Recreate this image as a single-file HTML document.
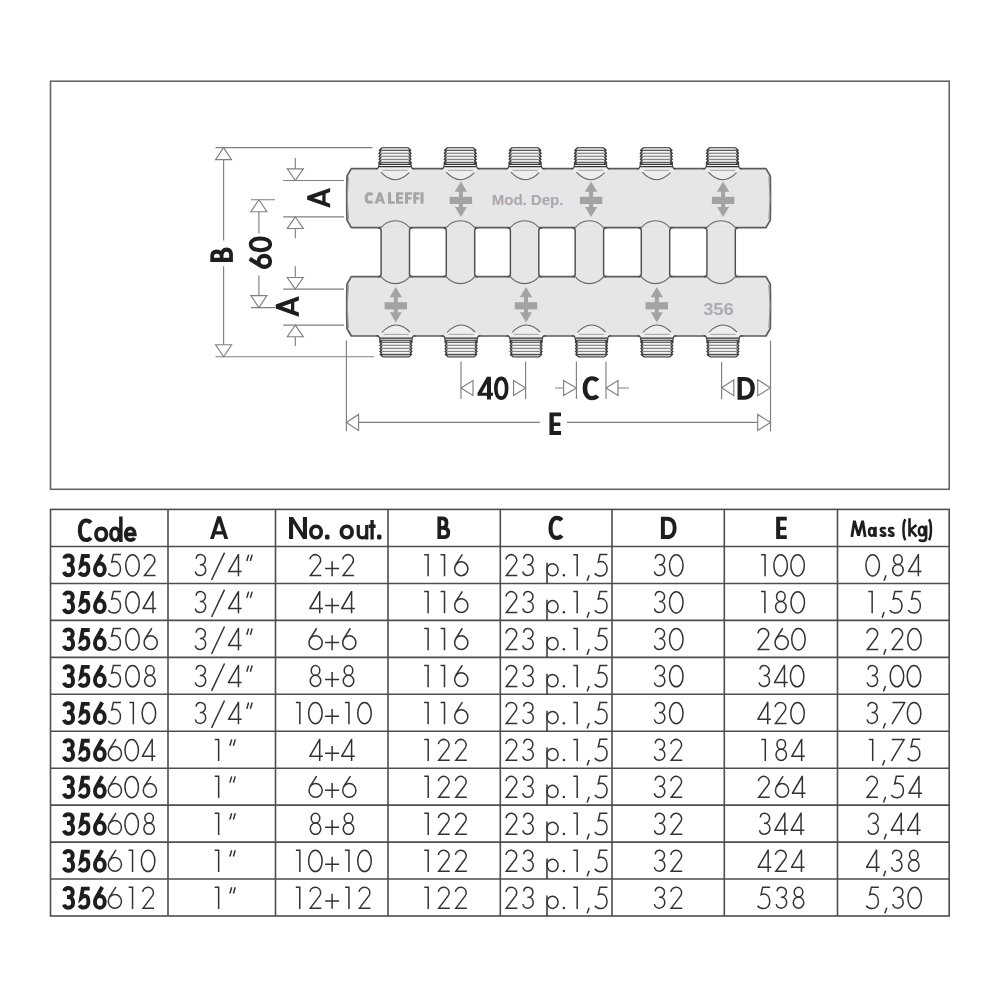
<!DOCTYPE html>
<html><head><meta charset="utf-8"><style>
html,body{margin:0;padding:0;background:#fff;}
svg{display:block;font-family:"Liberation Sans",sans-serif;}
</style></head><body>
<svg width="1000" height="1000" viewBox="0 0 1000 1000">
<defs><g id="L0"><ellipse cx="7.5" cy="11.4" rx="6.75" ry="10.65"/></g><g id="L1"><path d="M0,0.7H3.95V22.4"/></g><g id="L2"><path d="M0.75,5.45A5.44,5.44 0 1 1 10.29,9.67L1.2,21.65H12.2"/></g><g id="L3"><path d="M1.35,4.85C1.6,2.3 3.3,0.65 5.6,0.65C8.37,0.65 10.65,2.88 10.65,5.65C10.65,8.42 8.6,10.7 6.2,10.7H5.1M6.2,10.7C8.9,10.7 10.95,13.15 10.95,16.175C10.95,19.2 8.5,21.65 5.475,21.65C3.1,21.65 1.1,19.9 0.45,17.6"/></g><g id="L4"><path d="M14,17.6H0.9L10.8,0.6M10.8,0V22.4" stroke-linejoin="round"/></g><g id="L5"><path d="M13.3,0.65H5.8L4.15,8.15C5.4,7.6 6.2,7.6 6.9,7.6C10.5,7.6 12.85,10.8 12.85,15C12.85,19.2 10.2,22.1 6.7,22.1C4.2,22.1 1.8,20.8 0.7,19.25"/></g><g id="L6"><path d="M8.4,0.4L1.5,11.2"/><ellipse cx="7.3" cy="14.8" rx="6.6" ry="6.9"/></g><g id="L7"><path d="M1.2,0.7H13.65L0.8,22.4" stroke-linejoin="round"/></g><g id="L8"><ellipse cx="6" cy="5.6" rx="4.3" ry="4.9"/><ellipse cx="6" cy="16.1" rx="5.25" ry="5.6"/></g><g id="Lsl"><path d="M0.7,26.1L13.7,-1.3"/></g><g id="Ldq"><path d="M0.75,7.0L2.6,0.7M4.3,7.0L6.15,0.7"/></g><g id="Lpl"><path d="M0,14.6H14M7,7.3V22.3"/></g><g id="Lp"><path d="M0.75,8.9V29.5"/><ellipse cx="6.3" cy="15.8" rx="5.55" ry="6.1"/></g><g id="Ldt"><circle cx="1.25" cy="21.4" r="1.25" stroke="none" fill="#333"/></g><g id="Lcm"><path d="M0.7,26.8L2.7,21.2"/></g><g id="BA"><path d="M7.3,0H10.9L18.2,22.7H14.4L12.97,18.2H5.25L3.8,22.7H0ZM9.1,6.3L11.85,15H6.3Z" fill-rule="evenodd" stroke="none"/></g><g id="BB"><path d="M1.85,11.2H5.2C7.6,11.2 9.15,9.3 9.15,6.3C9.15,3.4 7.6,1.85 5.2,1.85H1.85V20.55H6.2C9.3,20.55 10.95,19 10.95,16.1C10.95,13.1 8.9,11.2 5.2,11.2" fill="none" stroke-width="3.7"/></g><g id="BC"><path d="M13.55,4.3C12.3,2.7 10.6,1.9 8.6,1.9C4.6,1.9 2.3,6.3 2.3,11.9C2.3,17.5 4.6,21.9 8.6,21.9C10.6,21.9 12.3,21.1 13.55,19.5" fill="none" stroke-width="4.2"/></g><g id="BD"><path d="M2,1.9H6.2C11.3,1.9 13.8,5.8 13.8,11.1C13.8,16.4 11.3,20.3 6.2,20.3H2Z" fill="none" stroke-width="3.95"/></g><g id="BL"><path d="M0,0H4V18.4H10.6V22.2H0Z" fill-rule="evenodd" stroke="none"/></g><g id="BF"><path d="M0,0H10.6V3.8H4V9.9H10V13.3H4V22.2H0Z" fill-rule="evenodd" stroke="none"/></g><g id="BI"><path d="M0,0H4V22.2H0Z" fill-rule="evenodd" stroke="none"/></g><g id="BE"><path d="M0,0H10.6V3.8H4V9.9H10V13.3H4V18.4H10.6V22.2H0Z" fill-rule="evenodd" stroke="none"/></g><g id="B0"><path d="M7.25,1.85C3.9,1.85 1.85,6 1.85,11.75C1.85,17.5 3.9,21.65 7.25,21.65C10.6,21.65 12.65,17.5 12.65,11.75C12.65,6 10.6,1.85 7.25,1.85Z" fill="none" stroke-width="3.7"/></g><g id="B4"><path d="M9.5,0H13.5V15.9H15.5V19H13.5V22.75H9.5V19H0V16.2ZM9.5,7.1V15.9H4.35Z" fill-rule="evenodd" stroke="none"/></g><g id="B6"><path d="M9.2,0.9L2.8,12.3M6.85,9.9C3.9,9.9 1.95,12.4 1.95,15.75C1.95,19.1 3.9,21.6 6.85,21.6C9.8,21.6 11.75,19.1 11.75,15.75C11.75,12.4 9.8,9.9 6.85,9.9Z" fill="none" stroke-width="3.9"/></g><g id="B3"><path d="M2.3,5.0C2.7,2.7 4.3,2.0 6.5,2.0C9.0,2.0 10.6,3.8 10.6,6.2C10.6,8.9 8.9,10.9 6.3,10.9H4.9M6.3,10.9C9.3,10.9 11.0,13.5 11.0,16.8C11.0,19.9 9.1,21.7 6.4,21.7C4.1,21.7 2.5,20.5 1.9,18.4" fill="none" stroke-width="4.0"/></g><g id="B5"><path d="M12.4,2.55H5.5L3.9,11.7C5,10.6 6.3,10 7.6,10C10,10 11.1,12.5 11.1,15.7C11.1,19.2 9.2,21.5 6.4,21.5C4.4,21.5 2.9,20.6 2.0,19.1" fill="none" stroke-width="3.9"/></g><g id="Bo"><path d="M7.1,1.85C3.9,1.85 1.85,4.3 1.85,7.75C1.85,11.2 3.9,13.65 7.1,13.65C10.3,13.65 12.35,11.2 12.35,7.75C12.35,4.3 10.3,1.85 7.1,1.85Z" fill="none" stroke-width="3.7"/></g><g id="Bd"><path d="M11.85,0V25.4M6.1,11.75C3.5,11.75 1.85,14.2 1.85,17.65C1.85,21.1 3.5,23.55 6.1,23.55C8.7,23.55 10.3,21.1 10.3,17.65C10.3,14.2 8.7,11.75 6.1,11.75Z" fill="none" stroke-width="3.5"/></g><g id="Be"><path d="M1.85,7.9H11.05C11.05,4.3 9.1,1.85 6.45,1.85C3.6,1.85 1.85,4.4 1.85,7.75C1.85,11.2 3.6,13.65 6.45,13.65C8.3,13.65 9.8,12.9 10.7,11.3" fill="none" stroke-width="3.7"/></g><g id="BN"><path d="M0,22H0V0H4.1L13.9,15.4V0H18V22H13.9L4.1,6.6V22Z" fill-rule="evenodd" stroke="none"/></g><g id="Bu"><path d="M1.75,0V8.6C1.75,11.4 3.3,12.8 6,12.8C8.7,12.8 10.25,11.4 10.25,8.6M10.25,0V14.5" fill="none" stroke-width="3.2"/></g><g id="Bt"><path d="M3.5,0V19.5M0,6.25H7" fill="none" stroke-width="3.3"/></g><g id="Bdot"><rect x="0" y="0" width="4.5" height="5" rx="1.6" stroke="none"/></g><g id="BM"><path d="M1.3,17.5L3.9,1.3L8,16.2L12.1,1.3L14.7,17.5" fill="none" stroke-width="2.8" stroke-linejoin="bevel"/></g><g id="Ba"><path d="M4.1,1.3C2.4,1.3 1.3,3 1.3,5.1C1.3,7.2 2.4,8.95 4.1,8.95C5.8,8.95 6.9,7.2 6.9,5.1C6.9,3 5.8,1.3 4.1,1.3ZM7.7,0V10.25" fill="none" stroke-width="2.6"/></g><g id="Bs"><path d="M6.1,2.2C5.5,1.5 4.6,1.25 3.6,1.25C2.2,1.25 1.3,2.1 1.3,3.2C1.3,6 5.8,5 5.8,7.7C5.8,9.2 4.7,9 3.4,9C2.2,9 1.2,8.5 0.7,7.6" fill="none" stroke-width="2.5"/></g><g id="Blp"><path d="M3,0.5C0.4,4.5 0.4,17.3 3,21.3" fill="none" stroke-width="2.5"/></g><g id="Brp"><path d="M0.4,0.5C3,4.5 3,17.3 0.4,21.3" fill="none" stroke-width="2.5"/></g><g id="Bk"><path d="M1.3,0V18.4M8.2,6.8L2.4,11.6L8.4,18.4" fill="none" stroke-width="2.6"/></g><g id="Bg"><path d="M4.3,1.3C2.5,1.3 1.3,3.2 1.3,5.6C1.3,8 2.5,9.9 4.3,9.9C6.1,9.9 7.2,8 7.2,5.6C7.2,3.2 6.1,1.3 4.3,1.3ZM8.5,0V12.6C8.5,15.2 7,15.5 4.8,15.5C3.3,15.5 2.1,15 1.4,14" fill="none" stroke-width="2.6"/></g></defs>
<rect x="50.5" y="81.2" width="898.7" height="408.1" fill="none" stroke="#626262" stroke-width="1.55"/><g fill="#e6e6e8" stroke="#5c5c5c" stroke-width="1.7" stroke-linejoin="round"><path d="M351.3,168.7H766L770.3,176.2Q770.7,198.2 770.3,220.2L766,227.7H351.3L347,220.2Q346.4,198.2 347,176.2Z"/><path d="M351.3,276.7H766L770.3,284.2Q770.7,306.35 770.3,328.5L766,336H351.3L347,328.5Q346.4,306.35 347,284.2Z"/></g><g fill="#e6e6e8" stroke="none"><rect x="381.1" y="226.2" width="28.4" height="52"/><rect x="446.3" y="226.2" width="28.4" height="52"/><rect x="510.4" y="226.2" width="28.4" height="52"/><rect x="575.2" y="226.2" width="28.4" height="52"/><rect x="641.3" y="226.2" width="28.4" height="52"/><rect x="706.9" y="226.2" width="28.4" height="52"/></g><path d="M378.1,227.7Q381.1,227.7 381.1,230.7V273.7Q381.1,276.7 378.1,276.7M412.5,227.7Q409.5,227.7 409.5,230.7V273.7Q409.5,276.7 412.5,276.7M443.3,227.7Q446.3,227.7 446.3,230.7V273.7Q446.3,276.7 443.3,276.7M477.7,227.7Q474.7,227.7 474.7,230.7V273.7Q474.7,276.7 477.7,276.7M507.4,227.7Q510.4,227.7 510.4,230.7V273.7Q510.4,276.7 507.4,276.7M541.8,227.7Q538.8,227.7 538.8,230.7V273.7Q538.8,276.7 541.8,276.7M572.2,227.7Q575.2,227.7 575.2,230.7V273.7Q575.2,276.7 572.2,276.7M606.6,227.7Q603.6,227.7 603.6,230.7V273.7Q603.6,276.7 606.6,276.7M638.3,227.7Q641.3,227.7 641.3,230.7V273.7Q641.3,276.7 638.3,276.7M672.7,227.7Q669.7,227.7 669.7,230.7V273.7Q669.7,276.7 672.7,276.7M703.9,227.7Q706.9,227.7 706.9,230.7V273.7Q706.9,276.7 703.9,276.7M738.3,227.7Q735.3,227.7 735.3,230.7V273.7Q735.3,276.7 738.3,276.7" fill="none" stroke="#4f4f4f" stroke-width="1.45"/><g fill="none" stroke="#9a9a9c" stroke-width="0.9"><path d="M768.7,176.7Q771.5,198.2 768.7,219.7"/><path d="M348.6,176.7Q345.8,198.2 348.6,219.7"/><path d="M768.7,284.7Q771.5,306.35 768.7,328"/><path d="M348.6,284.7Q345.8,306.35 348.6,328"/></g><g fill="none" stroke="#6a6a6a" stroke-width="1.1"><path d="M381.1,227.7A18,18 0 0 1 409.5,227.7"/><path d="M381.1,276.7A18,18 0 0 0 409.5,276.7"/><path d="M446.3,227.7A18,18 0 0 1 474.7,227.7"/><path d="M446.3,276.7A18,18 0 0 0 474.7,276.7"/><path d="M510.4,227.7A18,18 0 0 1 538.8,227.7"/><path d="M510.4,276.7A18,18 0 0 0 538.8,276.7"/><path d="M575.2,227.7A18,18 0 0 1 603.6,227.7"/><path d="M575.2,276.7A18,18 0 0 0 603.6,276.7"/><path d="M641.3,227.7A18,18 0 0 1 669.7,227.7"/><path d="M641.3,276.7A18,18 0 0 0 669.7,276.7"/><path d="M706.9,227.7A18,18 0 0 1 735.3,227.7"/><path d="M706.9,276.7A18,18 0 0 0 735.3,276.7"/></g><g transform="translate(394.9,0)"><path d="M-17.6,166.8H17.8V169.5L14.2,172.6Q0,186 -14,172.2L-17.6,169.5Z" fill="#eeeeef" stroke="none"/><path d="M-14,172.2Q0,187 14.2,172.6" fill="none" stroke="#626262" stroke-width="1.05"/><path d="M-12.3,170.35H12.8" fill="none" stroke="#9c9c9c" stroke-width="0.9"/><path d="M-12.6,147.6H13L15.8,150.3V166.6H-15.6V150.3Z" fill="#dddddd" stroke="none"/><rect x="-14.4" y="162.4" width="28.9" height="2.3" fill="#c4c4c4"/><rect x="-14.4" y="159.6" width="28.9" height="2.6" fill="#dedede"/><path d="M-13.6,151.8H13.8M-13.6,154.8H13.8M-13.6,157.85H13.8" fill="none" stroke="#f7f7f7" stroke-width="1.5"/><path d="M-15,165.6H15.2" stroke="#f4f4f4" stroke-width="1.1"/><path d="M-13.6,160.9H13.8" stroke="#ececec" stroke-width="1.2"/><path d="M-13.2,149H13.5" stroke="#f2f2f2" stroke-width="1.3"/><path d="M-19.5,168.75H-17.8C-16.6,168.4 -16.1,167.2 -15.9,164.55M19.7,168.75H18C16.8,168.4 16.3,167.2 16.1,164.55" fill="none" stroke="#444" stroke-width="1.2"/><path d="M-15.9,164.55H16.1M-16,166.6H16.2" fill="none" stroke="#343434" stroke-width="1.05"/><path d="M-12.6,147.6L-15.6,150.3L-14.1,151.8L-15.9,153.3L-14.1,154.8L-15.9,156.3L-14.1,157.8L-15.9,159.3L-14.1,160.8L-15.9,162.3L-14.1,163.8L-15.9,162.4L-15.9,164.55M13,147.6L15.8,150.3L14.3,151.8L16.1,153.3L14.3,154.8L16.1,156.3L14.3,157.8L16.1,159.3L14.3,160.8L16.1,162.3L14.3,163.8L16.1,162.4L16.1,164.55" fill="none" stroke="#383838" stroke-width="1.3" stroke-linejoin="round"/><path d="M-12.6,147.7H13M-15.3,150.3H15.5" fill="none" stroke="#3a3a3a" stroke-width="1.0"/><path d="M-14.4,153.3H14.6M-14.4,156.3H14.6M-14.4,159.4H14.6" fill="none" stroke="#707070" stroke-width="0.9"/><path d="M-14.6,162.4H14.8" fill="none" stroke="#505050" stroke-width="1.0"/></g><g transform="translate(460.2,0)"><path d="M-17.6,166.8H17.8V169.5L14.2,172.6Q0,186 -14,172.2L-17.6,169.5Z" fill="#eeeeef" stroke="none"/><path d="M-14,172.2Q0,187 14.2,172.6" fill="none" stroke="#626262" stroke-width="1.05"/><path d="M-12.3,170.35H12.8" fill="none" stroke="#9c9c9c" stroke-width="0.9"/><path d="M-12.6,147.6H13L15.8,150.3V166.6H-15.6V150.3Z" fill="#dddddd" stroke="none"/><rect x="-14.4" y="162.4" width="28.9" height="2.3" fill="#c4c4c4"/><rect x="-14.4" y="159.6" width="28.9" height="2.6" fill="#dedede"/><path d="M-13.6,151.8H13.8M-13.6,154.8H13.8M-13.6,157.85H13.8" fill="none" stroke="#f7f7f7" stroke-width="1.5"/><path d="M-15,165.6H15.2" stroke="#f4f4f4" stroke-width="1.1"/><path d="M-13.6,160.9H13.8" stroke="#ececec" stroke-width="1.2"/><path d="M-13.2,149H13.5" stroke="#f2f2f2" stroke-width="1.3"/><path d="M-19.5,168.75H-17.8C-16.6,168.4 -16.1,167.2 -15.9,164.55M19.7,168.75H18C16.8,168.4 16.3,167.2 16.1,164.55" fill="none" stroke="#444" stroke-width="1.2"/><path d="M-15.9,164.55H16.1M-16,166.6H16.2" fill="none" stroke="#343434" stroke-width="1.05"/><path d="M-12.6,147.6L-15.6,150.3L-14.1,151.8L-15.9,153.3L-14.1,154.8L-15.9,156.3L-14.1,157.8L-15.9,159.3L-14.1,160.8L-15.9,162.3L-14.1,163.8L-15.9,162.4L-15.9,164.55M13,147.6L15.8,150.3L14.3,151.8L16.1,153.3L14.3,154.8L16.1,156.3L14.3,157.8L16.1,159.3L14.3,160.8L16.1,162.3L14.3,163.8L16.1,162.4L16.1,164.55" fill="none" stroke="#383838" stroke-width="1.3" stroke-linejoin="round"/><path d="M-12.6,147.7H13M-15.3,150.3H15.5" fill="none" stroke="#3a3a3a" stroke-width="1.0"/><path d="M-14.4,153.3H14.6M-14.4,156.3H14.6M-14.4,159.4H14.6" fill="none" stroke="#707070" stroke-width="0.9"/><path d="M-14.6,162.4H14.8" fill="none" stroke="#505050" stroke-width="1.0"/></g><g transform="translate(525,0)"><path d="M-17.6,166.8H17.8V169.5L14.2,172.6Q0,186 -14,172.2L-17.6,169.5Z" fill="#eeeeef" stroke="none"/><path d="M-14,172.2Q0,187 14.2,172.6" fill="none" stroke="#626262" stroke-width="1.05"/><path d="M-12.3,170.35H12.8" fill="none" stroke="#9c9c9c" stroke-width="0.9"/><path d="M-12.6,147.6H13L15.8,150.3V166.6H-15.6V150.3Z" fill="#dddddd" stroke="none"/><rect x="-14.4" y="162.4" width="28.9" height="2.3" fill="#c4c4c4"/><rect x="-14.4" y="159.6" width="28.9" height="2.6" fill="#dedede"/><path d="M-13.6,151.8H13.8M-13.6,154.8H13.8M-13.6,157.85H13.8" fill="none" stroke="#f7f7f7" stroke-width="1.5"/><path d="M-15,165.6H15.2" stroke="#f4f4f4" stroke-width="1.1"/><path d="M-13.6,160.9H13.8" stroke="#ececec" stroke-width="1.2"/><path d="M-13.2,149H13.5" stroke="#f2f2f2" stroke-width="1.3"/><path d="M-19.5,168.75H-17.8C-16.6,168.4 -16.1,167.2 -15.9,164.55M19.7,168.75H18C16.8,168.4 16.3,167.2 16.1,164.55" fill="none" stroke="#444" stroke-width="1.2"/><path d="M-15.9,164.55H16.1M-16,166.6H16.2" fill="none" stroke="#343434" stroke-width="1.05"/><path d="M-12.6,147.6L-15.6,150.3L-14.1,151.8L-15.9,153.3L-14.1,154.8L-15.9,156.3L-14.1,157.8L-15.9,159.3L-14.1,160.8L-15.9,162.3L-14.1,163.8L-15.9,162.4L-15.9,164.55M13,147.6L15.8,150.3L14.3,151.8L16.1,153.3L14.3,154.8L16.1,156.3L14.3,157.8L16.1,159.3L14.3,160.8L16.1,162.3L14.3,163.8L16.1,162.4L16.1,164.55" fill="none" stroke="#383838" stroke-width="1.3" stroke-linejoin="round"/><path d="M-12.6,147.7H13M-15.3,150.3H15.5" fill="none" stroke="#3a3a3a" stroke-width="1.0"/><path d="M-14.4,153.3H14.6M-14.4,156.3H14.6M-14.4,159.4H14.6" fill="none" stroke="#707070" stroke-width="0.9"/><path d="M-14.6,162.4H14.8" fill="none" stroke="#505050" stroke-width="1.0"/></g><g transform="translate(590.4,0)"><path d="M-17.6,166.8H17.8V169.5L14.2,172.6Q0,186 -14,172.2L-17.6,169.5Z" fill="#eeeeef" stroke="none"/><path d="M-14,172.2Q0,187 14.2,172.6" fill="none" stroke="#626262" stroke-width="1.05"/><path d="M-12.3,170.35H12.8" fill="none" stroke="#9c9c9c" stroke-width="0.9"/><path d="M-12.6,147.6H13L15.8,150.3V166.6H-15.6V150.3Z" fill="#dddddd" stroke="none"/><rect x="-14.4" y="162.4" width="28.9" height="2.3" fill="#c4c4c4"/><rect x="-14.4" y="159.6" width="28.9" height="2.6" fill="#dedede"/><path d="M-13.6,151.8H13.8M-13.6,154.8H13.8M-13.6,157.85H13.8" fill="none" stroke="#f7f7f7" stroke-width="1.5"/><path d="M-15,165.6H15.2" stroke="#f4f4f4" stroke-width="1.1"/><path d="M-13.6,160.9H13.8" stroke="#ececec" stroke-width="1.2"/><path d="M-13.2,149H13.5" stroke="#f2f2f2" stroke-width="1.3"/><path d="M-19.5,168.75H-17.8C-16.6,168.4 -16.1,167.2 -15.9,164.55M19.7,168.75H18C16.8,168.4 16.3,167.2 16.1,164.55" fill="none" stroke="#444" stroke-width="1.2"/><path d="M-15.9,164.55H16.1M-16,166.6H16.2" fill="none" stroke="#343434" stroke-width="1.05"/><path d="M-12.6,147.6L-15.6,150.3L-14.1,151.8L-15.9,153.3L-14.1,154.8L-15.9,156.3L-14.1,157.8L-15.9,159.3L-14.1,160.8L-15.9,162.3L-14.1,163.8L-15.9,162.4L-15.9,164.55M13,147.6L15.8,150.3L14.3,151.8L16.1,153.3L14.3,154.8L16.1,156.3L14.3,157.8L16.1,159.3L14.3,160.8L16.1,162.3L14.3,163.8L16.1,162.4L16.1,164.55" fill="none" stroke="#383838" stroke-width="1.3" stroke-linejoin="round"/><path d="M-12.6,147.7H13M-15.3,150.3H15.5" fill="none" stroke="#3a3a3a" stroke-width="1.0"/><path d="M-14.4,153.3H14.6M-14.4,156.3H14.6M-14.4,159.4H14.6" fill="none" stroke="#707070" stroke-width="0.9"/><path d="M-14.6,162.4H14.8" fill="none" stroke="#505050" stroke-width="1.0"/></g><g transform="translate(656.2,0)"><path d="M-17.6,166.8H17.8V169.5L14.2,172.6Q0,186 -14,172.2L-17.6,169.5Z" fill="#eeeeef" stroke="none"/><path d="M-14,172.2Q0,187 14.2,172.6" fill="none" stroke="#626262" stroke-width="1.05"/><path d="M-12.3,170.35H12.8" fill="none" stroke="#9c9c9c" stroke-width="0.9"/><path d="M-12.6,147.6H13L15.8,150.3V166.6H-15.6V150.3Z" fill="#dddddd" stroke="none"/><rect x="-14.4" y="162.4" width="28.9" height="2.3" fill="#c4c4c4"/><rect x="-14.4" y="159.6" width="28.9" height="2.6" fill="#dedede"/><path d="M-13.6,151.8H13.8M-13.6,154.8H13.8M-13.6,157.85H13.8" fill="none" stroke="#f7f7f7" stroke-width="1.5"/><path d="M-15,165.6H15.2" stroke="#f4f4f4" stroke-width="1.1"/><path d="M-13.6,160.9H13.8" stroke="#ececec" stroke-width="1.2"/><path d="M-13.2,149H13.5" stroke="#f2f2f2" stroke-width="1.3"/><path d="M-19.5,168.75H-17.8C-16.6,168.4 -16.1,167.2 -15.9,164.55M19.7,168.75H18C16.8,168.4 16.3,167.2 16.1,164.55" fill="none" stroke="#444" stroke-width="1.2"/><path d="M-15.9,164.55H16.1M-16,166.6H16.2" fill="none" stroke="#343434" stroke-width="1.05"/><path d="M-12.6,147.6L-15.6,150.3L-14.1,151.8L-15.9,153.3L-14.1,154.8L-15.9,156.3L-14.1,157.8L-15.9,159.3L-14.1,160.8L-15.9,162.3L-14.1,163.8L-15.9,162.4L-15.9,164.55M13,147.6L15.8,150.3L14.3,151.8L16.1,153.3L14.3,154.8L16.1,156.3L14.3,157.8L16.1,159.3L14.3,160.8L16.1,162.3L14.3,163.8L16.1,162.4L16.1,164.55" fill="none" stroke="#383838" stroke-width="1.3" stroke-linejoin="round"/><path d="M-12.6,147.7H13M-15.3,150.3H15.5" fill="none" stroke="#3a3a3a" stroke-width="1.0"/><path d="M-14.4,153.3H14.6M-14.4,156.3H14.6M-14.4,159.4H14.6" fill="none" stroke="#707070" stroke-width="0.9"/><path d="M-14.6,162.4H14.8" fill="none" stroke="#505050" stroke-width="1.0"/></g><g transform="translate(722.4,0)"><path d="M-17.6,166.8H17.8V169.5L14.2,172.6Q0,186 -14,172.2L-17.6,169.5Z" fill="#eeeeef" stroke="none"/><path d="M-14,172.2Q0,187 14.2,172.6" fill="none" stroke="#626262" stroke-width="1.05"/><path d="M-12.3,170.35H12.8" fill="none" stroke="#9c9c9c" stroke-width="0.9"/><path d="M-12.6,147.6H13L15.8,150.3V166.6H-15.6V150.3Z" fill="#dddddd" stroke="none"/><rect x="-14.4" y="162.4" width="28.9" height="2.3" fill="#c4c4c4"/><rect x="-14.4" y="159.6" width="28.9" height="2.6" fill="#dedede"/><path d="M-13.6,151.8H13.8M-13.6,154.8H13.8M-13.6,157.85H13.8" fill="none" stroke="#f7f7f7" stroke-width="1.5"/><path d="M-15,165.6H15.2" stroke="#f4f4f4" stroke-width="1.1"/><path d="M-13.6,160.9H13.8" stroke="#ececec" stroke-width="1.2"/><path d="M-13.2,149H13.5" stroke="#f2f2f2" stroke-width="1.3"/><path d="M-19.5,168.75H-17.8C-16.6,168.4 -16.1,167.2 -15.9,164.55M19.7,168.75H18C16.8,168.4 16.3,167.2 16.1,164.55" fill="none" stroke="#444" stroke-width="1.2"/><path d="M-15.9,164.55H16.1M-16,166.6H16.2" fill="none" stroke="#343434" stroke-width="1.05"/><path d="M-12.6,147.6L-15.6,150.3L-14.1,151.8L-15.9,153.3L-14.1,154.8L-15.9,156.3L-14.1,157.8L-15.9,159.3L-14.1,160.8L-15.9,162.3L-14.1,163.8L-15.9,162.4L-15.9,164.55M13,147.6L15.8,150.3L14.3,151.8L16.1,153.3L14.3,154.8L16.1,156.3L14.3,157.8L16.1,159.3L14.3,160.8L16.1,162.3L14.3,163.8L16.1,162.4L16.1,164.55" fill="none" stroke="#383838" stroke-width="1.3" stroke-linejoin="round"/><path d="M-12.6,147.7H13M-15.3,150.3H15.5" fill="none" stroke="#3a3a3a" stroke-width="1.0"/><path d="M-14.4,153.3H14.6M-14.4,156.3H14.6M-14.4,159.4H14.6" fill="none" stroke="#707070" stroke-width="0.9"/><path d="M-14.6,162.4H14.8" fill="none" stroke="#505050" stroke-width="1.0"/></g><g transform="translate(395.8,504.7) scale(1,-1)"><path d="M-17.6,166.8H17.8V169.5L14.2,172.6Q0,186 -14,172.2L-17.6,169.5Z" fill="#eeeeef" stroke="none"/><path d="M-14,172.2Q0,187 14.2,172.6" fill="none" stroke="#626262" stroke-width="1.05"/><path d="M-12.3,170.35H12.8" fill="none" stroke="#9c9c9c" stroke-width="0.9"/><path d="M-12.6,147.6H13L15.8,150.3V166.6H-15.6V150.3Z" fill="#dddddd" stroke="none"/><rect x="-12.8" y="147.8" width="25.7" height="2.5" fill="#bdbdbd"/><path d="M-13.6,151.8H13.8M-13.6,154.8H13.8M-13.6,157.85H13.8" fill="none" stroke="#f7f7f7" stroke-width="1.5"/><path d="M-15,165.6H15.2" stroke="#f4f4f4" stroke-width="1.1"/><path d="M-13.6,160.9H13.8" stroke="#f7f7f7" stroke-width="1.5"/><path d="M-19.5,168.75H-17.8C-16.6,168.4 -16.1,167.2 -15.9,164.55M19.7,168.75H18C16.8,168.4 16.3,167.2 16.1,164.55" fill="none" stroke="#444" stroke-width="1.2"/><path d="M-15.9,164.55H16.1M-16,166.6H16.2" fill="none" stroke="#343434" stroke-width="1.05"/><path d="M-12.6,147.6L-15.6,150.3L-14.1,151.8L-15.9,153.3L-14.1,154.8L-15.9,156.3L-14.1,157.8L-15.9,159.3L-14.1,160.8L-15.9,162.3L-14.1,163.8L-15.9,162.4L-15.9,164.55M13,147.6L15.8,150.3L14.3,151.8L16.1,153.3L14.3,154.8L16.1,156.3L14.3,157.8L16.1,159.3L14.3,160.8L16.1,162.3L14.3,163.8L16.1,162.4L16.1,164.55" fill="none" stroke="#383838" stroke-width="1.3" stroke-linejoin="round"/><path d="M-12.6,147.7H13M-15.3,150.3H15.5" fill="none" stroke="#3a3a3a" stroke-width="1.0"/><path d="M-14.4,153.3H14.6M-14.4,156.3H14.6M-14.4,159.4H14.6" fill="none" stroke="#707070" stroke-width="0.9"/><path d="M-14.6,162.4H14.8" fill="none" stroke="#505050" stroke-width="1.0"/></g><g transform="translate(461,504.7) scale(1,-1)"><path d="M-17.6,166.8H17.8V169.5L14.2,172.6Q0,186 -14,172.2L-17.6,169.5Z" fill="#eeeeef" stroke="none"/><path d="M-14,172.2Q0,187 14.2,172.6" fill="none" stroke="#626262" stroke-width="1.05"/><path d="M-12.3,170.35H12.8" fill="none" stroke="#9c9c9c" stroke-width="0.9"/><path d="M-12.6,147.6H13L15.8,150.3V166.6H-15.6V150.3Z" fill="#dddddd" stroke="none"/><rect x="-12.8" y="147.8" width="25.7" height="2.5" fill="#bdbdbd"/><path d="M-13.6,151.8H13.8M-13.6,154.8H13.8M-13.6,157.85H13.8" fill="none" stroke="#f7f7f7" stroke-width="1.5"/><path d="M-15,165.6H15.2" stroke="#f4f4f4" stroke-width="1.1"/><path d="M-13.6,160.9H13.8" stroke="#f7f7f7" stroke-width="1.5"/><path d="M-19.5,168.75H-17.8C-16.6,168.4 -16.1,167.2 -15.9,164.55M19.7,168.75H18C16.8,168.4 16.3,167.2 16.1,164.55" fill="none" stroke="#444" stroke-width="1.2"/><path d="M-15.9,164.55H16.1M-16,166.6H16.2" fill="none" stroke="#343434" stroke-width="1.05"/><path d="M-12.6,147.6L-15.6,150.3L-14.1,151.8L-15.9,153.3L-14.1,154.8L-15.9,156.3L-14.1,157.8L-15.9,159.3L-14.1,160.8L-15.9,162.3L-14.1,163.8L-15.9,162.4L-15.9,164.55M13,147.6L15.8,150.3L14.3,151.8L16.1,153.3L14.3,154.8L16.1,156.3L14.3,157.8L16.1,159.3L14.3,160.8L16.1,162.3L14.3,163.8L16.1,162.4L16.1,164.55" fill="none" stroke="#383838" stroke-width="1.3" stroke-linejoin="round"/><path d="M-12.6,147.7H13M-15.3,150.3H15.5" fill="none" stroke="#3a3a3a" stroke-width="1.0"/><path d="M-14.4,153.3H14.6M-14.4,156.3H14.6M-14.4,159.4H14.6" fill="none" stroke="#707070" stroke-width="0.9"/><path d="M-14.6,162.4H14.8" fill="none" stroke="#505050" stroke-width="1.0"/></g><g transform="translate(526,504.7) scale(1,-1)"><path d="M-17.6,166.8H17.8V169.5L14.2,172.6Q0,186 -14,172.2L-17.6,169.5Z" fill="#eeeeef" stroke="none"/><path d="M-14,172.2Q0,187 14.2,172.6" fill="none" stroke="#626262" stroke-width="1.05"/><path d="M-12.3,170.35H12.8" fill="none" stroke="#9c9c9c" stroke-width="0.9"/><path d="M-12.6,147.6H13L15.8,150.3V166.6H-15.6V150.3Z" fill="#dddddd" stroke="none"/><rect x="-12.8" y="147.8" width="25.7" height="2.5" fill="#bdbdbd"/><path d="M-13.6,151.8H13.8M-13.6,154.8H13.8M-13.6,157.85H13.8" fill="none" stroke="#f7f7f7" stroke-width="1.5"/><path d="M-15,165.6H15.2" stroke="#f4f4f4" stroke-width="1.1"/><path d="M-13.6,160.9H13.8" stroke="#f7f7f7" stroke-width="1.5"/><path d="M-19.5,168.75H-17.8C-16.6,168.4 -16.1,167.2 -15.9,164.55M19.7,168.75H18C16.8,168.4 16.3,167.2 16.1,164.55" fill="none" stroke="#444" stroke-width="1.2"/><path d="M-15.9,164.55H16.1M-16,166.6H16.2" fill="none" stroke="#343434" stroke-width="1.05"/><path d="M-12.6,147.6L-15.6,150.3L-14.1,151.8L-15.9,153.3L-14.1,154.8L-15.9,156.3L-14.1,157.8L-15.9,159.3L-14.1,160.8L-15.9,162.3L-14.1,163.8L-15.9,162.4L-15.9,164.55M13,147.6L15.8,150.3L14.3,151.8L16.1,153.3L14.3,154.8L16.1,156.3L14.3,157.8L16.1,159.3L14.3,160.8L16.1,162.3L14.3,163.8L16.1,162.4L16.1,164.55" fill="none" stroke="#383838" stroke-width="1.3" stroke-linejoin="round"/><path d="M-12.6,147.7H13M-15.3,150.3H15.5" fill="none" stroke="#3a3a3a" stroke-width="1.0"/><path d="M-14.4,153.3H14.6M-14.4,156.3H14.6M-14.4,159.4H14.6" fill="none" stroke="#707070" stroke-width="0.9"/><path d="M-14.6,162.4H14.8" fill="none" stroke="#505050" stroke-width="1.0"/></g><g transform="translate(591.4,504.7) scale(1,-1)"><path d="M-17.6,166.8H17.8V169.5L14.2,172.6Q0,186 -14,172.2L-17.6,169.5Z" fill="#eeeeef" stroke="none"/><path d="M-14,172.2Q0,187 14.2,172.6" fill="none" stroke="#626262" stroke-width="1.05"/><path d="M-12.3,170.35H12.8" fill="none" stroke="#9c9c9c" stroke-width="0.9"/><path d="M-12.6,147.6H13L15.8,150.3V166.6H-15.6V150.3Z" fill="#dddddd" stroke="none"/><rect x="-12.8" y="147.8" width="25.7" height="2.5" fill="#bdbdbd"/><path d="M-13.6,151.8H13.8M-13.6,154.8H13.8M-13.6,157.85H13.8" fill="none" stroke="#f7f7f7" stroke-width="1.5"/><path d="M-15,165.6H15.2" stroke="#f4f4f4" stroke-width="1.1"/><path d="M-13.6,160.9H13.8" stroke="#f7f7f7" stroke-width="1.5"/><path d="M-19.5,168.75H-17.8C-16.6,168.4 -16.1,167.2 -15.9,164.55M19.7,168.75H18C16.8,168.4 16.3,167.2 16.1,164.55" fill="none" stroke="#444" stroke-width="1.2"/><path d="M-15.9,164.55H16.1M-16,166.6H16.2" fill="none" stroke="#343434" stroke-width="1.05"/><path d="M-12.6,147.6L-15.6,150.3L-14.1,151.8L-15.9,153.3L-14.1,154.8L-15.9,156.3L-14.1,157.8L-15.9,159.3L-14.1,160.8L-15.9,162.3L-14.1,163.8L-15.9,162.4L-15.9,164.55M13,147.6L15.8,150.3L14.3,151.8L16.1,153.3L14.3,154.8L16.1,156.3L14.3,157.8L16.1,159.3L14.3,160.8L16.1,162.3L14.3,163.8L16.1,162.4L16.1,164.55" fill="none" stroke="#383838" stroke-width="1.3" stroke-linejoin="round"/><path d="M-12.6,147.7H13M-15.3,150.3H15.5" fill="none" stroke="#3a3a3a" stroke-width="1.0"/><path d="M-14.4,153.3H14.6M-14.4,156.3H14.6M-14.4,159.4H14.6" fill="none" stroke="#707070" stroke-width="0.9"/><path d="M-14.6,162.4H14.8" fill="none" stroke="#505050" stroke-width="1.0"/></g><g transform="translate(656.8,504.7) scale(1,-1)"><path d="M-17.6,166.8H17.8V169.5L14.2,172.6Q0,186 -14,172.2L-17.6,169.5Z" fill="#eeeeef" stroke="none"/><path d="M-14,172.2Q0,187 14.2,172.6" fill="none" stroke="#626262" stroke-width="1.05"/><path d="M-12.3,170.35H12.8" fill="none" stroke="#9c9c9c" stroke-width="0.9"/><path d="M-12.6,147.6H13L15.8,150.3V166.6H-15.6V150.3Z" fill="#dddddd" stroke="none"/><rect x="-12.8" y="147.8" width="25.7" height="2.5" fill="#bdbdbd"/><path d="M-13.6,151.8H13.8M-13.6,154.8H13.8M-13.6,157.85H13.8" fill="none" stroke="#f7f7f7" stroke-width="1.5"/><path d="M-15,165.6H15.2" stroke="#f4f4f4" stroke-width="1.1"/><path d="M-13.6,160.9H13.8" stroke="#f7f7f7" stroke-width="1.5"/><path d="M-19.5,168.75H-17.8C-16.6,168.4 -16.1,167.2 -15.9,164.55M19.7,168.75H18C16.8,168.4 16.3,167.2 16.1,164.55" fill="none" stroke="#444" stroke-width="1.2"/><path d="M-15.9,164.55H16.1M-16,166.6H16.2" fill="none" stroke="#343434" stroke-width="1.05"/><path d="M-12.6,147.6L-15.6,150.3L-14.1,151.8L-15.9,153.3L-14.1,154.8L-15.9,156.3L-14.1,157.8L-15.9,159.3L-14.1,160.8L-15.9,162.3L-14.1,163.8L-15.9,162.4L-15.9,164.55M13,147.6L15.8,150.3L14.3,151.8L16.1,153.3L14.3,154.8L16.1,156.3L14.3,157.8L16.1,159.3L14.3,160.8L16.1,162.3L14.3,163.8L16.1,162.4L16.1,164.55" fill="none" stroke="#383838" stroke-width="1.3" stroke-linejoin="round"/><path d="M-12.6,147.7H13M-15.3,150.3H15.5" fill="none" stroke="#3a3a3a" stroke-width="1.0"/><path d="M-14.4,153.3H14.6M-14.4,156.3H14.6M-14.4,159.4H14.6" fill="none" stroke="#707070" stroke-width="0.9"/><path d="M-14.6,162.4H14.8" fill="none" stroke="#505050" stroke-width="1.0"/></g><g transform="translate(722.8,504.7) scale(1,-1)"><path d="M-17.6,166.8H17.8V169.5L14.2,172.6Q0,186 -14,172.2L-17.6,169.5Z" fill="#eeeeef" stroke="none"/><path d="M-14,172.2Q0,187 14.2,172.6" fill="none" stroke="#626262" stroke-width="1.05"/><path d="M-12.3,170.35H12.8" fill="none" stroke="#9c9c9c" stroke-width="0.9"/><path d="M-12.6,147.6H13L15.8,150.3V166.6H-15.6V150.3Z" fill="#dddddd" stroke="none"/><rect x="-12.8" y="147.8" width="25.7" height="2.5" fill="#bdbdbd"/><path d="M-13.6,151.8H13.8M-13.6,154.8H13.8M-13.6,157.85H13.8" fill="none" stroke="#f7f7f7" stroke-width="1.5"/><path d="M-15,165.6H15.2" stroke="#f4f4f4" stroke-width="1.1"/><path d="M-13.6,160.9H13.8" stroke="#f7f7f7" stroke-width="1.5"/><path d="M-19.5,168.75H-17.8C-16.6,168.4 -16.1,167.2 -15.9,164.55M19.7,168.75H18C16.8,168.4 16.3,167.2 16.1,164.55" fill="none" stroke="#444" stroke-width="1.2"/><path d="M-15.9,164.55H16.1M-16,166.6H16.2" fill="none" stroke="#343434" stroke-width="1.05"/><path d="M-12.6,147.6L-15.6,150.3L-14.1,151.8L-15.9,153.3L-14.1,154.8L-15.9,156.3L-14.1,157.8L-15.9,159.3L-14.1,160.8L-15.9,162.3L-14.1,163.8L-15.9,162.4L-15.9,164.55M13,147.6L15.8,150.3L14.3,151.8L16.1,153.3L14.3,154.8L16.1,156.3L14.3,157.8L16.1,159.3L14.3,160.8L16.1,162.3L14.3,163.8L16.1,162.4L16.1,164.55" fill="none" stroke="#383838" stroke-width="1.3" stroke-linejoin="round"/><path d="M-12.6,147.7H13M-15.3,150.3H15.5" fill="none" stroke="#3a3a3a" stroke-width="1.0"/><path d="M-14.4,153.3H14.6M-14.4,156.3H14.6M-14.4,159.4H14.6" fill="none" stroke="#707070" stroke-width="0.9"/><path d="M-14.6,162.4H14.8" fill="none" stroke="#505050" stroke-width="1.0"/></g><g fill="#a3a3a5"><path d="M460.9,181.6L467.1,191.8L454.7,191.8Z"/><path d="M460.9,217L466.9,206.9L454.9,206.9Z"/><rect x="458.9" y="190.6" width="4" height="17.5"/><rect x="449.7" y="196.8" width="22.4" height="7.2"/><path d="M591.1,181.6L597.3,191.8L584.9,191.8Z"/><path d="M591.1,217L597.1,206.9L585.1,206.9Z"/><rect x="589.1" y="190.6" width="4" height="17.5"/><rect x="579.9" y="196.8" width="22.4" height="7.2"/><path d="M723.1,181.6L729.3,191.8L716.9,191.8Z"/><path d="M723.1,217L729.1,206.9L717.1,206.9Z"/><rect x="721.1" y="190.6" width="4" height="17.5"/><rect x="711.9" y="196.8" width="22.4" height="7.2"/><path d="M395.8,287L402,297.2L389.6,297.2Z"/><path d="M395.8,322.4L401.8,312.3L389.8,312.3Z"/><rect x="393.8" y="296" width="4" height="17.5"/><rect x="384.6" y="302.2" width="22.4" height="7.2"/><path d="M526,287L532.2,297.2L519.8,297.2Z"/><path d="M526,322.4L532,312.3L520,312.3Z"/><rect x="524" y="296" width="4" height="17.5"/><rect x="514.8" y="302.2" width="22.4" height="7.2"/><path d="M656.8,287L663,297.2L650.6,297.2Z"/><path d="M656.8,322.4L662.8,312.3L650.8,312.3Z"/><rect x="654.8" y="296" width="4" height="17.5"/><rect x="645.6" y="302.2" width="22.4" height="7.2"/></g><g fill="#a6a6a8" stroke="#a6a6a8" stroke-linecap="butt" stroke-linejoin="miter"><path d="M372.6,194.7C371.7,193.9 370.5,193.7 369.3,193.7C366.9,193.7 366.2,195.7 366.2,198C366.2,200.3 366.9,202.3 369.3,202.3C370.5,202.3 371.7,202.1 372.6,201.3" fill="none" stroke-width="3.0"/><path stroke="none" fill-rule="evenodd" d="M378.5,192.2H381.3L385.2,203.8H382.2L381.6,201.6H378.2L377.6,203.8H374.6ZM379.9,196.4L380.9,199.3H378.9ZM388,192.2H391V201.2H394.9V203.8H388ZM396,192.2H403.2V194.8H399V196.8H402.7V199.3H399V201.2H403.2V203.8H396ZM405,192.2H411.9V194.8H408V196.9H411.4V199.4H408V203.8H405ZM413.3,192.2H419.7V194.8H416.3V196.9H419.2V199.4H416.3V203.8H413.3ZM420.5,192.2H423.6V203.8H420.5Z"/><text x="703.2" y="314.9" stroke="none" fill="#acacae" font-family="Liberation Sans" font-weight="bold" font-size="16.9" textLength="30.3" lengthAdjust="spacingAndGlyphs">356</text></g><text x="491.8" y="204.5" font-family="Liberation Sans" font-weight="bold" fill="#a9a9ab" font-size="14.5" textLength="71.5" lengthAdjust="spacingAndGlyphs">Mod. Dep.</text><g fill="none" stroke="#808080" stroke-width="1.15"><path d="M215.5,147.6H372.5M215.5,356.7H374M223.6,159.5V240.4M223.6,266.3V344.7M251,199.7H275M251,307.6H275M258.9,211.7V233.4M258.9,275.4V295M283.2,180.5H344M283.2,216.9H344M295.3,158.1V168.9M295.3,229.1V238.3M283.2,289.1H344M283.2,325.1H344M295.3,266.3V276.8M295.3,337V346.1M346.4,340.4V431M770.5,340.5V431.2M358.6,422.4H540M567,422.4H757.7M461,361.6V399M525.6,361.6V399M576.4,361.6V399M606,361.6V399M555,388H563.6M618,388H629M721.6,361.9V399.3"/><path d="M223.6,147.6L215.6,159.6L231.6,159.6Z" fill="#fff"/><path d="M223.6,356.7L215.6,344.7L231.6,344.7Z" fill="#fff"/><path d="M258.9,199.7L250.9,211.7L266.9,211.7Z" fill="#fff"/><path d="M258.9,307.6L250.9,295.6L266.9,295.6Z" fill="#fff"/><path d="M295.3,180.5L287.3,168.9L303.3,168.9Z" fill="#fff"/><path d="M295.3,216.9L287.3,228.5L303.3,228.5Z" fill="#fff"/><path d="M295.3,289.1L287.3,277.5L303.3,277.5Z" fill="#fff"/><path d="M295.3,325.1L287.3,336.7L303.3,336.7Z" fill="#fff"/><path d="M346.4,422.4L358.6,414.4L358.6,430.4Z" fill="#fff"/><path d="M770.5,422.4L757.7,414.4L757.7,430.4Z" fill="#fff"/><path d="M461,388L473,380.5L473,395.5Z" fill="#fff"/><path d="M525.6,388L513.6,380.5L513.6,395.5Z" fill="#fff"/><path d="M576.4,388L563.6,380.5L563.6,395.5Z" fill="#fff"/><path d="M606,388L618,380.5L618,395.5Z" fill="#fff"/><path d="M721.6,387.8L733.8,379.8L733.8,395.8Z" fill="#fff"/><path d="M770.5,387.8L757.7,379.8L757.7,395.8Z" fill="#fff"/></g><g fill="#1e1e1e" stroke="#1e1e1e" stroke-linecap="butt" stroke-linejoin="miter"><use href="#BB" transform="translate(210.3,262.1) rotate(-90) scale(1.15,1.01)"/><use href="#B6" transform="translate(248.8,269) rotate(-90) scale(1.11,0.99)"/><use href="#B0" transform="translate(248.8,252.2) rotate(-90) scale(1.09,0.99)"/><use href="#BA" transform="translate(307.2,207.8) rotate(-90) scale(1.09,1.01)"/><use href="#BA" transform="translate(275.7,316.7) rotate(-90) scale(1.12,1.02)"/><use href="#B4" transform="translate(477.5,376.75) scale(1,1)"/><use href="#B0" transform="translate(494,376.5) scale(1,1)"/><use href="#BC" transform="translate(582.4,376.4) scale(1.11,0.99)"/><use href="#BD" transform="translate(737.5,377) scale(1.1,1.02)"/><use href="#BE" transform="translate(549.45,412.5) scale(1.09,1.01)"/></g>
<g fill="none" stroke="#4e4e4e" stroke-width="1.6"><rect x="50.5" y="509.4" width="898.7" height="406.6"/><path d="M50.5,546.5H949.2M50.5,583.45H949.2M50.5,620.4H949.2M50.5,657.35H949.2M50.5,694.3H949.2M50.5,731.25H949.2M50.5,768.2H949.2M50.5,805.15H949.2M50.5,842.1H949.2M50.5,879.05H949.2M168,509.4V916M275.5,509.4V916M388,509.4V916M500.3,509.4V916M612,509.4V916M724.3,509.4V916M837.5,509.4V916"/></g><g fill="none" stroke="#333" stroke-width="1.5"><use href="#L3" x="194.75" y="553.95"/><use href="#Lsl" x="210.85" y="553.95"/><use href="#L4" x="227.65" y="553.95"/><use href="#Ldq" x="246.05" y="553.95"/><use href="#L2" x="309.1" y="553.95"/><use href="#Lpl" x="325.1" y="553.95"/><use href="#L2" x="341.9" y="553.95"/><use href="#L1" x="424.15" y="553.95"/><use href="#L1" x="440.55" y="553.95"/><use href="#L6" x="453.95" y="553.95"/><use href="#L2" x="505.1" y="553.95"/><use href="#L3" x="522.3" y="553.95"/><use href="#Lp" x="546.25" y="553.95"/><use href="#Ldt" x="562.6" y="553.95"/><use href="#L1" x="573.25" y="553.95"/><use href="#Lcm" x="586.45" y="553.95"/><use href="#L5" x="594.15" y="553.95"/><use href="#L3" x="653.9" y="553.95"/><use href="#L0" x="668.8" y="553.95"/><use href="#L1" x="761.1" y="553.95"/><use href="#L0" x="773.1" y="553.95"/><use href="#L0" x="790.1" y="553.95"/><use href="#L0" x="865.15" y="553.95"/><use href="#Lcm" x="883.35" y="553.95"/><use href="#L8" x="891.95" y="553.95"/><use href="#L4" x="907.55" y="553.95"/><use href="#L5" x="107.6" y="553.95"/><use href="#L0" x="125" y="553.95"/><use href="#L2" x="143.3" y="553.95"/><use href="#L3" x="194.75" y="590.9"/><use href="#Lsl" x="210.85" y="590.9"/><use href="#L4" x="227.65" y="590.9"/><use href="#Ldq" x="246.05" y="590.9"/><use href="#L4" x="308.9" y="590.9"/><use href="#Lpl" x="325.1" y="590.9"/><use href="#L4" x="340.8" y="590.9"/><use href="#L1" x="424.15" y="590.9"/><use href="#L1" x="440.55" y="590.9"/><use href="#L6" x="453.95" y="590.9"/><use href="#L2" x="505.1" y="590.9"/><use href="#L3" x="522.3" y="590.9"/><use href="#Lp" x="546.25" y="590.9"/><use href="#Ldt" x="562.6" y="590.9"/><use href="#L1" x="573.25" y="590.9"/><use href="#Lcm" x="586.45" y="590.9"/><use href="#L5" x="594.15" y="590.9"/><use href="#L3" x="653.9" y="590.9"/><use href="#L0" x="668.8" y="590.9"/><use href="#L1" x="760.95" y="590.9"/><use href="#L8" x="774.85" y="590.9"/><use href="#L0" x="790.25" y="590.9"/><use href="#L1" x="868.2" y="590.9"/><use href="#Lcm" x="881.4" y="590.9"/><use href="#L5" x="889.1" y="590.9"/><use href="#L5" x="907.5" y="590.9"/><use href="#L5" x="107.6" y="590.9"/><use href="#L0" x="125" y="590.9"/><use href="#L4" x="142.2" y="590.9"/><use href="#L3" x="194.75" y="627.85"/><use href="#Lsl" x="210.85" y="627.85"/><use href="#L4" x="227.65" y="627.85"/><use href="#Ldq" x="246.05" y="627.85"/><use href="#L6" x="308.3" y="627.85"/><use href="#Lpl" x="325.1" y="627.85"/><use href="#L6" x="342" y="627.85"/><use href="#L1" x="424.15" y="627.85"/><use href="#L1" x="440.55" y="627.85"/><use href="#L6" x="453.95" y="627.85"/><use href="#L2" x="505.1" y="627.85"/><use href="#L3" x="522.3" y="627.85"/><use href="#Lp" x="546.25" y="627.85"/><use href="#Ldt" x="562.6" y="627.85"/><use href="#L1" x="573.25" y="627.85"/><use href="#Lcm" x="586.45" y="627.85"/><use href="#L5" x="594.15" y="627.85"/><use href="#L3" x="653.9" y="627.85"/><use href="#L0" x="668.8" y="627.85"/><use href="#L2" x="757.15" y="627.85"/><use href="#L6" x="774.35" y="627.85"/><use href="#L0" x="790.95" y="627.85"/><use href="#L2" x="866.1" y="627.85"/><use href="#Lcm" x="883.1" y="627.85"/><use href="#L2" x="891.1" y="627.85"/><use href="#L0" x="906.9" y="627.85"/><use href="#L5" x="107.6" y="627.85"/><use href="#L0" x="125" y="627.85"/><use href="#L6" x="143.4" y="627.85"/><use href="#L3" x="194.75" y="664.8"/><use href="#Lsl" x="210.85" y="664.8"/><use href="#L4" x="227.65" y="664.8"/><use href="#Ldq" x="246.05" y="664.8"/><use href="#L8" x="309.5" y="664.8"/><use href="#Lpl" x="325.1" y="664.8"/><use href="#L8" x="342.5" y="664.8"/><use href="#L1" x="424.15" y="664.8"/><use href="#L1" x="440.55" y="664.8"/><use href="#L6" x="453.95" y="664.8"/><use href="#L2" x="505.1" y="664.8"/><use href="#L3" x="522.3" y="664.8"/><use href="#Lp" x="546.25" y="664.8"/><use href="#Ldt" x="562.6" y="664.8"/><use href="#L1" x="573.25" y="664.8"/><use href="#Lcm" x="586.45" y="664.8"/><use href="#L5" x="594.15" y="664.8"/><use href="#L3" x="653.9" y="664.8"/><use href="#L0" x="668.8" y="664.8"/><use href="#L3" x="758.55" y="664.8"/><use href="#L4" x="773.65" y="664.8"/><use href="#L0" x="789.65" y="664.8"/><use href="#L3" x="866.65" y="664.8"/><use href="#Lcm" x="882.75" y="664.8"/><use href="#L0" x="889.45" y="664.8"/><use href="#L0" x="906.45" y="664.8"/><use href="#L5" x="107.6" y="664.8"/><use href="#L0" x="125" y="664.8"/><use href="#L8" x="143.9" y="664.8"/><use href="#L3" x="194.75" y="701.75"/><use href="#Lsl" x="210.85" y="701.75"/><use href="#L4" x="227.65" y="701.75"/><use href="#Ldq" x="246.05" y="701.75"/><use href="#L1" x="295.9" y="701.75"/><use href="#L0" x="307.9" y="701.75"/><use href="#Lpl" x="325.1" y="701.75"/><use href="#L1" x="345" y="701.75"/><use href="#L0" x="357" y="701.75"/><use href="#L1" x="424.15" y="701.75"/><use href="#L1" x="440.55" y="701.75"/><use href="#L6" x="453.95" y="701.75"/><use href="#L2" x="505.1" y="701.75"/><use href="#L3" x="522.3" y="701.75"/><use href="#Lp" x="546.25" y="701.75"/><use href="#Ldt" x="562.6" y="701.75"/><use href="#L1" x="573.25" y="701.75"/><use href="#Lcm" x="586.45" y="701.75"/><use href="#L5" x="594.15" y="701.75"/><use href="#L3" x="653.9" y="701.75"/><use href="#L0" x="668.8" y="701.75"/><use href="#L4" x="756.95" y="701.75"/><use href="#L2" x="774.25" y="701.75"/><use href="#L0" x="790.05" y="701.75"/><use href="#L3" x="866.5" y="701.75"/><use href="#Lcm" x="882.6" y="701.75"/><use href="#L7" x="891.2" y="701.75"/><use href="#L0" x="906.6" y="701.75"/><use href="#L5" x="107.6" y="701.75"/><use href="#L1" x="129.4" y="701.75"/><use href="#L0" x="141.4" y="701.75"/><use href="#L1" x="214.7" y="738.7"/><use href="#Ldq" x="229.1" y="738.7"/><use href="#L4" x="308.9" y="738.7"/><use href="#Lpl" x="325.1" y="738.7"/><use href="#L4" x="340.8" y="738.7"/><use href="#L1" x="424.25" y="738.7"/><use href="#L2" x="437.55" y="738.7"/><use href="#L2" x="454.65" y="738.7"/><use href="#L2" x="505.1" y="738.7"/><use href="#L3" x="522.3" y="738.7"/><use href="#Lp" x="546.25" y="738.7"/><use href="#Ldt" x="562.6" y="738.7"/><use href="#L1" x="573.25" y="738.7"/><use href="#Lcm" x="586.45" y="738.7"/><use href="#L5" x="594.15" y="738.7"/><use href="#L3" x="653.85" y="738.7"/><use href="#L2" x="670.05" y="738.7"/><use href="#L1" x="761.35" y="738.7"/><use href="#L8" x="775.25" y="738.7"/><use href="#L4" x="790.85" y="738.7"/><use href="#L1" x="868.75" y="738.7"/><use href="#Lcm" x="881.95" y="738.7"/><use href="#L7" x="890.55" y="738.7"/><use href="#L5" x="906.95" y="738.7"/><use href="#L6" x="107.6" y="738.7"/><use href="#L0" x="124.2" y="738.7"/><use href="#L4" x="141.4" y="738.7"/><use href="#L1" x="214.7" y="775.65"/><use href="#Ldq" x="229.1" y="775.65"/><use href="#L6" x="308.3" y="775.65"/><use href="#Lpl" x="325.1" y="775.65"/><use href="#L6" x="342" y="775.65"/><use href="#L1" x="424.25" y="775.65"/><use href="#L2" x="437.55" y="775.65"/><use href="#L2" x="454.65" y="775.65"/><use href="#L2" x="505.1" y="775.65"/><use href="#L3" x="522.3" y="775.65"/><use href="#Lp" x="546.25" y="775.65"/><use href="#Ldt" x="562.6" y="775.65"/><use href="#L1" x="573.25" y="775.65"/><use href="#Lcm" x="586.45" y="775.65"/><use href="#L5" x="594.15" y="775.65"/><use href="#L3" x="653.85" y="775.65"/><use href="#L2" x="670.05" y="775.65"/><use href="#L2" x="757.55" y="775.65"/><use href="#L6" x="774.75" y="775.65"/><use href="#L4" x="791.55" y="775.65"/><use href="#L2" x="865.85" y="775.65"/><use href="#Lcm" x="882.85" y="775.65"/><use href="#L5" x="890.55" y="775.65"/><use href="#L4" x="908.15" y="775.65"/><use href="#L6" x="107.6" y="775.65"/><use href="#L0" x="124.2" y="775.65"/><use href="#L6" x="142.6" y="775.65"/><use href="#L1" x="214.7" y="812.6"/><use href="#Ldq" x="229.1" y="812.6"/><use href="#L8" x="309.5" y="812.6"/><use href="#Lpl" x="325.1" y="812.6"/><use href="#L8" x="342.5" y="812.6"/><use href="#L1" x="424.25" y="812.6"/><use href="#L2" x="437.55" y="812.6"/><use href="#L2" x="454.65" y="812.6"/><use href="#L2" x="505.1" y="812.6"/><use href="#L3" x="522.3" y="812.6"/><use href="#Lp" x="546.25" y="812.6"/><use href="#Ldt" x="562.6" y="812.6"/><use href="#L1" x="573.25" y="812.6"/><use href="#Lcm" x="586.45" y="812.6"/><use href="#L5" x="594.15" y="812.6"/><use href="#L3" x="653.85" y="812.6"/><use href="#L2" x="670.05" y="812.6"/><use href="#L3" x="758.95" y="812.6"/><use href="#L4" x="774.05" y="812.6"/><use href="#L4" x="790.25" y="812.6"/><use href="#L3" x="867.45" y="812.6"/><use href="#Lcm" x="883.55" y="812.6"/><use href="#L4" x="890.45" y="812.6"/><use href="#L4" x="906.65" y="812.6"/><use href="#L6" x="107.6" y="812.6"/><use href="#L0" x="124.2" y="812.6"/><use href="#L8" x="143.1" y="812.6"/><use href="#L1" x="214.7" y="849.55"/><use href="#Ldq" x="229.1" y="849.55"/><use href="#L1" x="295.9" y="849.55"/><use href="#L0" x="307.9" y="849.55"/><use href="#Lpl" x="325.1" y="849.55"/><use href="#L1" x="345" y="849.55"/><use href="#L0" x="357" y="849.55"/><use href="#L1" x="424.25" y="849.55"/><use href="#L2" x="437.55" y="849.55"/><use href="#L2" x="454.65" y="849.55"/><use href="#L2" x="505.1" y="849.55"/><use href="#L3" x="522.3" y="849.55"/><use href="#Lp" x="546.25" y="849.55"/><use href="#Ldt" x="562.6" y="849.55"/><use href="#L1" x="573.25" y="849.55"/><use href="#Lcm" x="586.45" y="849.55"/><use href="#L5" x="594.15" y="849.55"/><use href="#L3" x="653.85" y="849.55"/><use href="#L2" x="670.05" y="849.55"/><use href="#L4" x="757.35" y="849.55"/><use href="#L2" x="774.65" y="849.55"/><use href="#L4" x="790.65" y="849.55"/><use href="#L4" x="865.7" y="849.55"/><use href="#Lcm" x="882.9" y="849.55"/><use href="#L3" x="891" y="849.55"/><use href="#L8" x="907.8" y="849.55"/><use href="#L6" x="107.6" y="849.55"/><use href="#L1" x="128.6" y="849.55"/><use href="#L0" x="140.6" y="849.55"/><use href="#L1" x="214.7" y="886.5"/><use href="#Ldq" x="229.1" y="886.5"/><use href="#L1" x="295.8" y="886.5"/><use href="#L2" x="309.1" y="886.5"/><use href="#Lpl" x="325.1" y="886.5"/><use href="#L1" x="345" y="886.5"/><use href="#L2" x="358.3" y="886.5"/><use href="#L1" x="424.25" y="886.5"/><use href="#L2" x="437.55" y="886.5"/><use href="#L2" x="454.65" y="886.5"/><use href="#L2" x="505.1" y="886.5"/><use href="#L3" x="522.3" y="886.5"/><use href="#Lp" x="546.25" y="886.5"/><use href="#Ldt" x="562.6" y="886.5"/><use href="#L1" x="573.25" y="886.5"/><use href="#Lcm" x="586.45" y="886.5"/><use href="#L5" x="594.15" y="886.5"/><use href="#L3" x="653.85" y="886.5"/><use href="#L2" x="670.05" y="886.5"/><use href="#L5" x="756.9" y="886.5"/><use href="#L3" x="775.7" y="886.5"/><use href="#L8" x="792.5" y="886.5"/><use href="#L5" x="865.55" y="886.5"/><use href="#Lcm" x="884.15" y="886.5"/><use href="#L3" x="892.25" y="886.5"/><use href="#L0" x="907.15" y="886.5"/><use href="#L6" x="107.6" y="886.5"/><use href="#L1" x="128.6" y="886.5"/><use href="#L2" x="141.9" y="886.5"/></g><g fill="#1e1e1e" stroke="#1e1e1e" stroke-linecap="butt" stroke-linejoin="miter"><use href="#B3" transform="translate(62.1,553.5) scale(1,1)"/><use href="#B5" transform="translate(77.3,553.5) scale(1,1)"/><use href="#B6" transform="translate(93,553.6) scale(1,1)"/><use href="#B3" transform="translate(62.1,590.45) scale(1,1)"/><use href="#B5" transform="translate(77.3,590.45) scale(1,1)"/><use href="#B6" transform="translate(93,590.55) scale(1,1)"/><use href="#B3" transform="translate(62.1,627.4) scale(1,1)"/><use href="#B5" transform="translate(77.3,627.4) scale(1,1)"/><use href="#B6" transform="translate(93,627.5) scale(1,1)"/><use href="#B3" transform="translate(62.1,664.35) scale(1,1)"/><use href="#B5" transform="translate(77.3,664.35) scale(1,1)"/><use href="#B6" transform="translate(93,664.45) scale(1,1)"/><use href="#B3" transform="translate(62.1,701.3) scale(1,1)"/><use href="#B5" transform="translate(77.3,701.3) scale(1,1)"/><use href="#B6" transform="translate(93,701.4) scale(1,1)"/><use href="#B3" transform="translate(62.1,738.25) scale(1,1)"/><use href="#B5" transform="translate(77.3,738.25) scale(1,1)"/><use href="#B6" transform="translate(93,738.35) scale(1,1)"/><use href="#B3" transform="translate(62.1,775.2) scale(1,1)"/><use href="#B5" transform="translate(77.3,775.2) scale(1,1)"/><use href="#B6" transform="translate(93,775.3) scale(1,1)"/><use href="#B3" transform="translate(62.1,812.15) scale(1,1)"/><use href="#B5" transform="translate(77.3,812.15) scale(1,1)"/><use href="#B6" transform="translate(93,812.25) scale(1,1)"/><use href="#B3" transform="translate(62.1,849.1) scale(1,1)"/><use href="#B5" transform="translate(77.3,849.1) scale(1,1)"/><use href="#B6" transform="translate(93,849.2) scale(1,1)"/><use href="#B3" transform="translate(62.1,886.05) scale(1,1)"/><use href="#B5" transform="translate(77.3,886.05) scale(1,1)"/><use href="#B6" transform="translate(93,886.15) scale(1,1)"/><use href="#BC" transform="translate(77.6,518.6) scale(0.98,0.98)"/><use href="#Bo" transform="translate(94.1,526.5) scale(1,1)"/><use href="#Bd" transform="translate(109,516.6) scale(1,1)"/><use href="#Be" transform="translate(123.8,526.5) scale(1,1)"/><use href="#BA" transform="translate(210,516.2) scale(1,1)"/><use href="#BN" transform="translate(289,517) scale(1,1)"/><use href="#Bo" transform="translate(309,524.5) scale(0.99,0.97)"/><use href="#Bdot" transform="translate(325,534.5) scale(1,1)"/><use href="#Bo" transform="translate(339.5,524.5) scale(1.02,0.97)"/><use href="#Bu" transform="translate(356.5,525) scale(1,1)"/><use href="#Bt" transform="translate(368.6,520) scale(1,1)"/><use href="#Bdot" transform="translate(377,534.5) scale(1,1)"/><use href="#BB" transform="translate(437.4,516.6) scale(1,1)"/><use href="#BC" transform="translate(548.2,516) scale(1,1)"/><use href="#BD" transform="translate(660.9,516.8) scale(1,1)"/><use href="#BE" transform="translate(776.15,516.8) scale(1,1)"/><use href="#BM" transform="translate(850.5,519.5) scale(1,1)"/><use href="#Ba" transform="translate(867.75,526.75) scale(1,1)"/><use href="#Bs" transform="translate(879.5,526.75) scale(1,1)"/><use href="#Bs" transform="translate(887.75,526.75) scale(1,1)"/><use href="#Blp" transform="translate(902.4,518.8) scale(1,1)"/><use href="#Bk" transform="translate(908.2,518.2) scale(1,1)"/><use href="#Bg" transform="translate(917.6,525.4) scale(1,1)"/><use href="#Brp" transform="translate(928.6,518.8) scale(1,1)"/></g>
</svg>
</body></html>
